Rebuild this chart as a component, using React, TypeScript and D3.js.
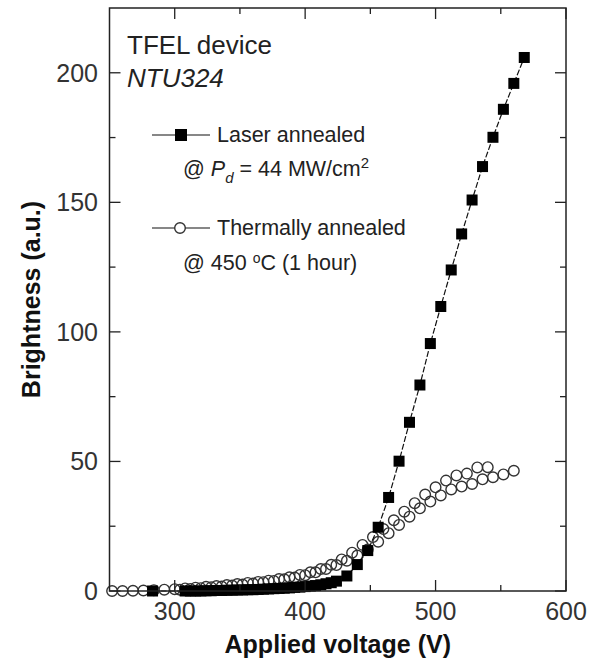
import React from "react";
import * as d3 from "d3";

// Laser annealed (filled squares)
const laserV = [283, 308, 312, 316, 320, 324, 328, 332, 336, 340, 344, 348, 352, 356, 360, 364, 368, 372, 376, 380, 384, 388, 392, 396, 400, 404, 408, 412, 416, 420, 424, 432, 440, 448, 456, 464, 472, 480, 488, 496, 504, 512, 520, 528, 536, 544, 552, 560, 568];
const laserB = [0, 0, 0, 0, 0, 0.1, 0.1, 0.2, 0.2, 0.3, 0.3, 0.4, 0.4, 0.5, 0.5, 0.6, 0.7, 0.8, 0.9, 1.0, 1.1, 1.2, 1.4, 1.5, 1.7, 1.9, 2.1, 2.4, 2.8, 3.2, 3.8, 5.8, 10.2, 15.6, 24.6, 36.1, 50.1, 65.1, 79.5, 95.5, 109.8, 123.9, 137.8, 150.9, 163.8, 175.1, 185.9, 195.9, 205.9];

// Thermally annealed (open circles), upper sweep
const thermAV = [252, 260, 268, 276, 284, 292, 300, 308, 316, 324, 332, 340, 348, 356, 364, 372, 380, 388, 396, 404, 412, 420, 428, 436, 444, 452, 460, 468, 476, 484, 492, 500, 508, 516, 524, 532, 540];
const thermAB = [0, 0, 0.1, 0.2, 0.3, 0.5, 0.7, 1.0, 1.3, 1.6, 1.9, 2.3, 2.7, 3.1, 3.5, 4.0, 4.6, 5.3, 6.2, 7.2, 8.5, 10.1, 12.2, 14.8, 17.8, 20.8, 23.9, 27.3, 30.6, 33.9, 37.2, 40.0, 42.6, 44.6, 45.3, 47.7, 47.8];
// Thermally annealed (open circles), lower sweep
const thermBV = [304, 312, 320, 328, 336, 344, 352, 360, 368, 376, 384, 392, 400, 408, 416, 424, 432, 440, 448, 456, 464, 472, 480, 488, 496, 504, 512, 520, 528, 536, 544, 552, 560];
const thermBB = [0.5, 0.8, 1.1, 1.4, 1.7, 2.1, 2.5, 2.9, 3.4, 3.9, 4.5, 5.2, 6.1, 7.2, 8.5, 10.0, 11.7, 13.7, 16.0, 19.0, 22.3, 25.5, 28.7, 31.9, 34.5, 36.9, 39.2, 40.3, 41.3, 43.1, 43.9, 45.0, 46.4];

const xTicks = [300, 400, 500, 600];
const xMinor = [350, 450, 550];
const yTicks = [0, 50, 100, 150, 200];
const yMinor = [25, 75, 125, 175];

const W = 590, H = 661;
const L = 109.5, R = 566, T = 8, B = 591;

export default function App() {
  const x = d3.scaleLinear().domain([250, 600]).range([L, R]);
  const y = d3.scaleLinear().domain([0, 225]).range([B, T]);
  const font = "'Liberation Sans', Arial, Helvetica, sans-serif";
  const laser = laserV.map((v, i) => [v, laserB[i]] as [number, number]);
  const thA = thermAV.map((v, i) => [v, thermAB[i]] as [number, number]);
  const thB = thermBV.map((v, i) => [v, thermBB[i]] as [number, number]);
  const line = d3.line<[number, number]>().x(d => x(d[0])).y(d => y(d[1]));
  const sq = 11;
  const cr = 5.3;
  const tc = "#222";
  return (
    <svg width={W} height={H} style={{ position: "absolute", left: 0, top: 0, background: "#fff" }} fontFamily={font}>
      <rect x={0} y={0} width={W} height={H} fill="#fff" />
      {/* circles */}
      <g fill="none" stroke="#333" strokeWidth={1.4}>
        {thA.map((d, i) => <circle key={"a" + i} cx={x(d[0])} cy={y(d[1])} r={cr} />)}
        {thB.map((d, i) => <circle key={"b" + i} cx={x(d[0])} cy={y(d[1])} r={cr} />)}
      </g>
      {/* laser line and squares */}
      <path d={line(laser) || ""} fill="none" stroke="#111" strokeWidth={1.2} strokeDasharray="6,2" />
      <g fill="#000">
        {laser.map((d, i) => <rect key={i} x={x(d[0]) - sq / 2} y={y(d[1]) - sq / 2} width={sq} height={sq} />)}
      </g>
      {/* frame */}
      <rect x={L} y={T} width={R - L} height={B - T} fill="none" stroke={tc} strokeWidth={1.5} />
      {/* ticks */}
      <g stroke={tc} strokeWidth={1.3}>
        {xTicks.map(t => (
          <g key={"xt" + t}>
            <line x1={x(t)} x2={x(t)} y1={B} y2={B - 11} />
            <line x1={x(t)} x2={x(t)} y1={T} y2={T + 11} />
          </g>
        ))}
        {xMinor.map(t => (
          <g key={"xm" + t}>
            <line x1={x(t)} x2={x(t)} y1={B} y2={B - 6} />
            <line x1={x(t)} x2={x(t)} y1={T} y2={T + 6} />
          </g>
        ))}
        {yTicks.map(t => (
          <g key={"yt" + t}>
            <line x1={L} x2={L + 11} y1={y(t)} y2={y(t)} />
            <line x1={R} x2={R - 11} y1={y(t)} y2={y(t)} />
          </g>
        ))}
        {yMinor.map(t => (
          <g key={"ym" + t}>
            <line x1={L} x2={L + 6} y1={y(t)} y2={y(t)} />
            <line x1={R} x2={R - 6} y1={y(t)} y2={y(t)} />
          </g>
        ))}
      </g>
      {/* tick labels */}
      <g fill="#333" fontSize={25}>
        {xTicks.map(t => (
          <text key={"xl" + t} x={x(t)} y={620} textAnchor="middle">{t}</text>
        ))}
        {yTicks.map(t => (
          <text key={"yl" + t} x={98} y={y(t) + 9} textAnchor="end">{t}</text>
        ))}
      </g>
      {/* axis titles */}
      <text x={(L + R) / 2} y={653} textAnchor="middle" fontSize={25} fontWeight="bold" fill="#111">Applied voltage (V)</text>
      <text transform={`translate(40,${(T + B) / 2}) rotate(-90)`} textAnchor="middle" fontSize={25} fontWeight="bold" fill="#111">Brightness (a.u.)</text>
      {/* annotations */}
      <text x={127} y={54} fontSize={26} fill="#222">TFEL device</text>
      <text x={127} y={87} fontSize={26} fontStyle="italic" fill="#222">NTU324</text>
      {/* legend */}
      <line x1={152} x2={210} y1={135} y2={135} stroke="#111" strokeWidth={1.2} />
      <rect x={181 - 6} y={135 - 6} width={12} height={12} fill="#000" />
      <text x={217} y={142} fontSize={21.5} fill="#222">Laser annealed</text>
      <text x={183} y={176} fontSize={21.5} fill="#222">
        @ <tspan fontStyle="italic">P</tspan><tspan fontStyle="italic" fontSize={15} dy={7}>d</tspan><tspan dy={-7}> = 44 MW/cm</tspan><tspan fontSize={15} dy={-8}>2</tspan>
      </text>
      <line x1={152} x2={210} y1={228} y2={228} stroke="#111" strokeWidth={1.2} />
      <circle cx={180} cy={228} r={5.3} fill="#fff" stroke="#333" strokeWidth={1.4} />
      <text x={217} y={235} fontSize={21.5} fill="#222">Thermally annealed</text>
      <text x={183} y={270} fontSize={21.5} fill="#222">
        @ 450 <tspan fontSize={14} dy={-7}>o</tspan><tspan dy={7}>C (1 hour)</tspan>
      </text>
    </svg>
  );
}
